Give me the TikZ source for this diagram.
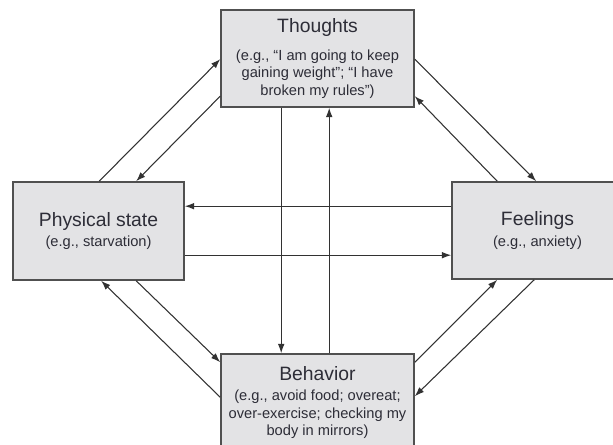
\documentclass[tikz,border=0pt]{standalone}
\usepackage{fontspec}
\setmainfont{Liberation Sans}
\usepackage{xcolor}
\usetikzlibrary{arrows.meta,calc}
\definecolor{boxfill}{RGB}{227,227,229}
\definecolor{boxline}{RGB}{80,80,80}
\definecolor{linkline}{RGB}{50,50,50}
\definecolor{labeltext}{RGB}{45,45,55}
\newcommand{\boxlabel}[3][2.5pt]{{\fontsize{14.5}{17}\selectfont #2}\\[#1]#3}

\begin{document}
\begin{tikzpicture}[x=0.75pt,y=0.75pt,yscale=-1,xscale=1,
  cbtbox/.style={draw=boxline,fill=boxfill,line width=1.2pt,align=center,text=labeltext,font=\fontsize{11}{13}\selectfont,inner sep=2pt},
  link/.style={draw=linkline,line width=0.8pt,-{Latex[length=7pt,width=5pt]}}]
\clip (0,0) rectangle (613,445); %set diagram size 613 x 445

% Text Node
\node [cbtbox,minimum width=144.75pt,minimum height=72.75pt] (thoughts) at (317.5,58.5) {\boxlabel[8pt]{Thoughts}{(e.g., “I am going to keep\\gaining weight”; “I have\\broken my rules”)}};
% Text Node
\node [cbtbox,minimum width=128.25pt,minimum height=73.5pt] (phys) at (98.5,231) {\boxlabel{Physical state}{(e.g., starvation)}};
% Text Node
\node [cbtbox,minimum width=128.25pt,minimum height=72.75pt] (feel) at (537.5,230.5) {\boxlabel{Feelings}{(e.g., anxiety)}};
% Text Node
\node [cbtbox,minimum width=144.75pt,minimum height=72.75pt] (behav) at (317.5,402.5) {\boxlabel{Behavior}{(e.g., avoid food; overeat;\\over-exercise; checking my\\body in mirrors)}};

%Straight Lines (physical state - thoughts)
\draw [link] ($(phys.north west)+(87,0)$) -- ($(thoughts.north west)+(0,50)$);
\draw [link] ($(thoughts.north west)+(0,87)$) -- ($(phys.north west)+(124,0)$);
%Straight Lines (thoughts - feelings)
\draw [link] ($(thoughts.north east)+(0,50)$) -- ($(feel.north west)+(85,0)$);
\draw [link] ($(feel.north west)+(46,0)$) -- ($(thoughts.north east)+(0,87)$);
%Straight Lines (feelings - physical state)
\draw [link] ($(feel.north west)+(0,25)$) -- ($(phys.north east)+(0,25)$);
\draw [link] ($(phys.north east)+(0,74)$) -- ($(feel.north west)+(0,74)$);
%Straight Lines (thoughts - behavior)
\draw [link] ($(thoughts.south west)+(61,0)$) -- ($(behav.north west)+(61,0)$);
\draw [link] ($(behav.north west)+(109,0)$) -- ($(thoughts.south west)+(109,0)$);
%Straight Lines (behavior - physical state)
\draw [link] ($(behav.north west)+(0,44)$) -- ($(phys.south west)+(89,0)$);
\draw [link] ($(phys.south west)+(124,0)$) -- ($(behav.north west)+(0,9)$);
%Straight Lines (behavior - feelings)
\draw [link] ($(behav.north east)+(0,9)$) -- ($(feel.south west)+(46,0)$);
\draw [link] ($(feel.south west)+(83,0)$) -- ($(behav.north east)+(0,43)$);

\end{tikzpicture}
\end{document}
